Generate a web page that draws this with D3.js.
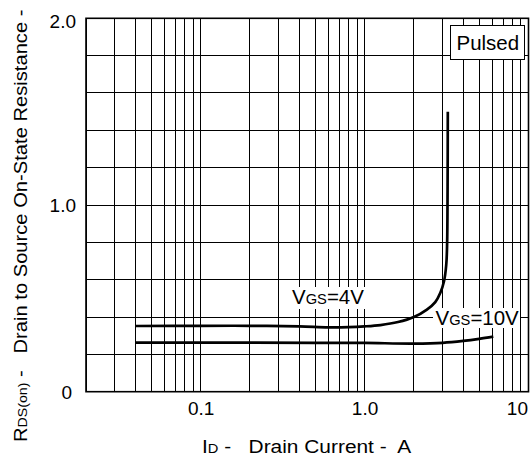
<!DOCTYPE html>
<html>
<head>
<meta charset="utf-8">
<script src="https://cdn.jsdelivr.net/npm/d3@7"></script>
<style>
  body { margin: 0; background: #fff; }
  svg { display: block; font-family: "Liberation Sans", Arial, sans-serif; }
  text { white-space: pre; }
</style>
</head>
<body>
<svg width="530" height="459"></svg>
<script>
// drain current (A) and on-state resistance (ohm)
var id4V  = [0.04, 0.1, 0.2, 0.4, 0.6, 0.8, 1.0, 1.25, 1.6, 2.0, 2.4, 2.7, 2.9, 3.05, 3.15, 3.19, 3.21, 3.22];
var rds4V = [0.352, 0.353, 0.353, 0.35, 0.345, 0.346, 0.35, 0.357, 0.373, 0.40, 0.44, 0.48, 0.53, 0.59, 0.68, 0.8, 1.1, 1.5];

var id10V  = [0.04, 0.1, 0.5, 1.0, 2.0, 3.0, 4.0, 5.0, 6.1];
var rds10V = [0.263, 0.263, 0.262, 0.261, 0.258, 0.262, 0.272, 0.283, 0.295];

var xTickLabels = [{ v: 0.1, t: "0.1" }, { v: 1, t: "1.0" }, { v: 10, t: "10" }];
var yTickLabels = [{ v: 0, t: "0" }, { v: 1, t: "1.0" }, { v: 2, t: "2.0" }];

var svg = d3.select("svg");

var x = d3.scaleLog().domain([0.02, 10]).range([86, 528.5]),
    y = d3.scaleLinear().domain([0, 2]).range([391.7, 18.3]);

var grid = svg.append("g")
    .attr("stroke", "#000")
    .attr("stroke-width", 1)
    .attr("shape-rendering", "crispEdges");

grid.selectAll("line.v")
    .data(x.ticks())
    .enter().append("line")
    .attr("class", "v")
    .attr("x1", function (d) { return x(d); })
    .attr("x2", function (d) { return x(d); })
    .attr("y1", y(0))
    .attr("y2", y(2));

grid.selectAll("line.h")
    .data(d3.range(0, 11).map(function (i) { return i * 0.2; }))
    .enter().append("line")
    .attr("class", "h")
    .attr("x1", x(0.02))
    .attr("x2", x(10))
    .attr("y1", function (d) { return y(d); })
    .attr("y2", function (d) { return y(d); });

svg.append("rect")
    .attr("x", x(0.02))
    .attr("y", y(2))
    .attr("width", x(10) - x(0.02))
    .attr("height", y(0) - y(2))
    .attr("fill", "none")
    .attr("stroke", "#000")
    .attr("stroke-width", 1.6);

// curves
var line = d3.line()
    .x(function (d) { return x(d[0]); })
    .y(function (d) { return y(d[1]); })
    .curve(d3.curveCatmullRom.alpha(0.5));

[[id4V, rds4V], [id10V, rds10V]].forEach(function (s) {
    svg.append("path")
        .datum(d3.zip(s[0], s[1]))
        .attr("d", line)
        .attr("fill", "none")
        .attr("stroke", "#000")
        .attr("stroke-width", 2.7);
});

// curve labels on white patches
function label(px, py, big, sub, rest, bx, by, bw, bh) {
    svg.append("rect").attr("x", bx).attr("y", by).attr("width", bw).attr("height", bh).attr("fill", "#fff");
    var t = svg.append("text")
        .attr("transform", "translate(" + px + "," + py + ") scale(1.05,1)")
        .attr("font-size", 19.5);
    t.append("tspan").text(big);
    t.append("tspan").attr("font-size", 14).text(sub);
    t.append("tspan").text(rest);
}
label(292, 303.5, "V", "GS", "=4V", 289, 287, 76, 22);
label(435.5, 324.5, "V", "GS", "=10V", 433, 308, 87, 20);

// Pulsed box
svg.append("rect")
    .attr("x", 450.5).attr("y", 25.5).attr("width", 74).attr("height", 34)
    .attr("fill", "#fff").attr("stroke", "#000").attr("stroke-width", 1);
svg.append("text")
    .attr("transform", "translate(487.8,50) scale(1.05,1)")
    .attr("text-anchor", "middle")
    .attr("font-size", 19.5)
    .text("Pulsed");

// tick labels
svg.selectAll("text.xt")
    .data(xTickLabels)
    .enter().append("text")
    .attr("class", "xt")
    .attr("x", function (d) { return d.v === 10 ? 528 : x(d.v) + 0.5; })
    .attr("y", 415)
    .attr("text-anchor", function (d) { return d.v === 10 ? "end" : "middle"; })
    .attr("font-size", 19)
    .text(function (d) { return d.t; });

svg.selectAll("text.yt")
    .data(yTickLabels)
    .enter().append("text")
    .attr("class", "yt")
    .attr("x", function (d) { return d.v === 0 ? 72 : 76; })
    .attr("y", function (d) { return d.v === 2 ? y(d.v) + 10 : y(d.v) + 7; })
    .attr("text-anchor", "end")
    .attr("font-size", 19)
    .text(function (d) { return d.t; });

// axis titles
var xt = svg.append("text")
    .attr("transform", "translate(202,453) scale(1.13,1)")
    .attr("font-size", 18.5);
xt.append("tspan").text("I");
xt.append("tspan").attr("font-size", 13).text("D");
xt.append("tspan").text(" -   Drain Current -  A");

var yt = svg.append("text")
    .attr("transform", "translate(27,442) rotate(-90) scale(1.09,1)")
    .attr("font-size", 18.5);
yt.append("tspan").text("R");
yt.append("tspan").attr("font-size", 13).text("DS(on)");
yt.append("tspan").text(" -   Drain to Source On-State Resistance - ");
</script>
</body>
</html>
